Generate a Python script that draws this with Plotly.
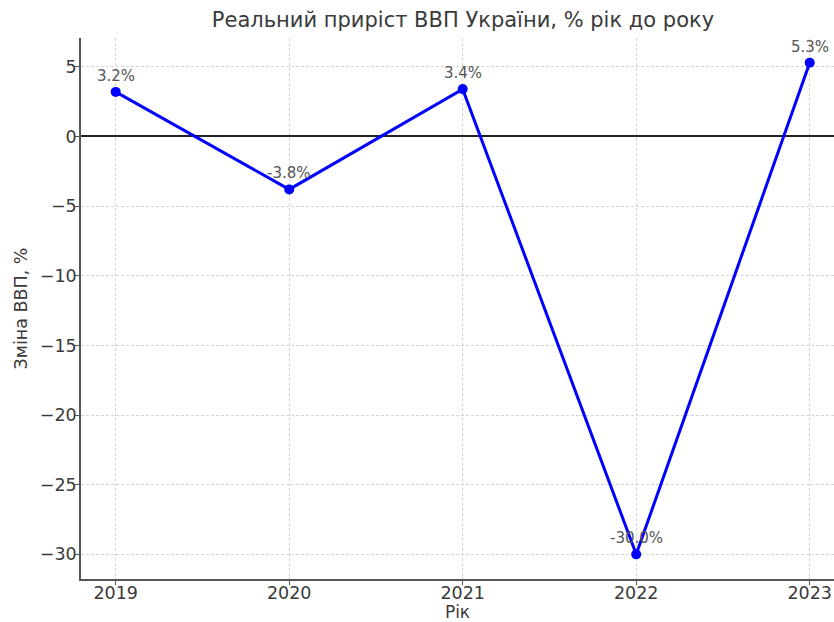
import plotly.graph_objects as go

years = [2019, 2020, 2021, 2022, 2023]
growth = [3.2, -3.8, 3.4, -30.0, 5.3]
labels = ["3.2%", "-3.8%", "3.4%", "-30.0%", "5.3%"]
y_ticks = [5, 0, -5, -10, -15, -20, -25, -30]
y_ticktext = ["5", "0", "\u22125", "\u221210", "\u221215", "\u221220", "\u221225", "\u221230"]

FONT = "DejaVu Sans"

fig = go.Figure()
fig.add_trace(go.Scatter(
    x=years, y=growth, mode="lines+markers",
    line=dict(color="#0000ff", width=3),
    marker=dict(color="#0000ff", size=10),
    hoverinfo="skip", showlegend=False,
))

for x, y, t in zip(years, growth, labels):
    fig.add_annotation(x=x, y=y, text=t, showarrow=False, yshift=16,
                       font=dict(family=FONT, size=15, color="#555555"))

fig.update_layout(
    width=834, height=622,
    margin=dict(l=81, r=0, t=38, b=43),
    paper_bgcolor="white", plot_bgcolor="white",
    font=dict(family=FONT, color="#3a3a3a"),
    title=dict(text="Реальний приріст ВВП України, % рік до року",
               x=463 / 834, xanchor="center", y=1 - 20 / 622, yanchor="middle",
               font=dict(family=FONT, size=21, color="#3a3a3a")),
)

fig.update_xaxes(
    range=[2018.8, 2023.14], tickvals=years, ticktext=[str(y) for y in years],
    showline=True, linecolor="#555555", linewidth=1.5,
    ticks="outside", ticklen=4, tickcolor="#555555", tickwidth=1.2,
    ticklabelstandoff=-7,
    tickfont=dict(family=FONT, size=17.5, color="#3a3a3a"),
    showgrid=True, gridcolor="#d4d4d4", griddash="3px,2px", gridwidth=1,
    zeroline=False, automargin=False,
    title=dict(text="Рік", font=dict(family=FONT, size=17, color="#3a3a3a"), standoff=9),
)
fig.update_yaxes(
    range=[-31.77, 7.07], tickvals=y_ticks, ticktext=y_ticktext,
    showline=True, linecolor="#555555", linewidth=1.5,
    ticks="outside", ticklen=4, tickcolor="#555555", tickwidth=1.2,
    ticklabelstandoff=-5,
    tickfont=dict(family=FONT, size=17.5, color="#3a3a3a"),
    showgrid=True, gridcolor="#d4d4d4", griddash="3px,2px", gridwidth=1,
    zeroline=True, zerolinecolor="#222222", zerolinewidth=1.5,
    automargin=False,
    title=dict(text="Зміна ВВП, %", font=dict(family=FONT, size=17.5, color="#3a3a3a"), standoff=8),
)

fig.write_html("out.html", config={"displayModeBar": False},
               post_script="document.body.style.margin='0';")
